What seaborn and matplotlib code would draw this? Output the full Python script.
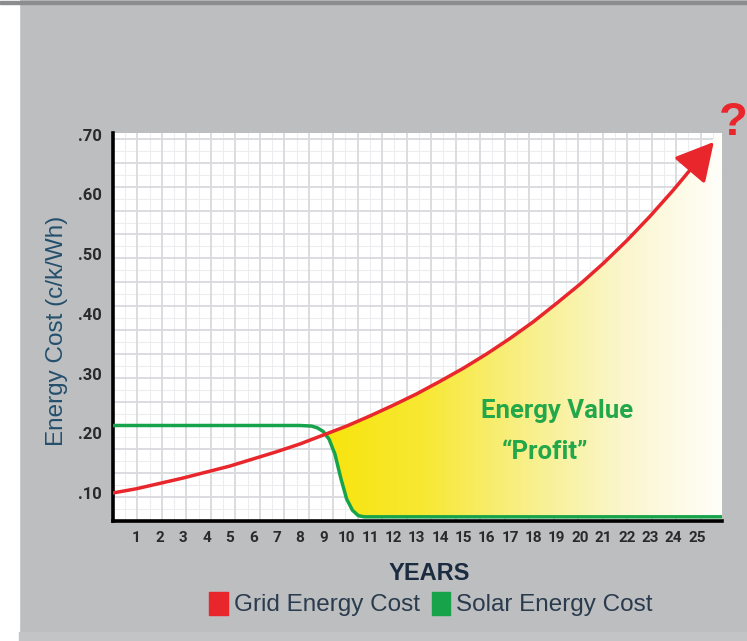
import numpy as np
import pandas as pd
import matplotlib
matplotlib.use('Agg')
import matplotlib.pyplot as plt
from matplotlib.colors import LinearSegmentedColormap
from matplotlib.patches import Patch, Rectangle
import seaborn as sns

# values
grid_years = [0, 1, 2, 3, 4, 5, 6, 7, 8, 9, 10, 11, 12, 13, 14, 15, 16, 17, 18,
              19, 20, 21, 22, 23, 24, 25, 26.1]
grid_cost = [0.100, 0.107, 0.116, 0.125, 0.135, 0.145, 0.157, 0.169, 0.182,
             0.197, 0.212, 0.229, 0.247, 0.266, 0.287, 0.309, 0.333, 0.359,
             0.387, 0.418, 0.450, 0.485, 0.523, 0.564, 0.608, 0.655, 0.715]
solar_years = [0, 2, 4, 6, 8, 8.5, 8.75, 9, 9.25, 9.5, 9.75, 10, 10.25, 10.5,
               10.75, 11, 14, 18, 22, 26.1]
solar_cost = [0.213, 0.213, 0.213, 0.213, 0.213, 0.212, 0.209, 0.203, 0.190,
              0.165, 0.125, 0.090, 0.071, 0.062, 0.060, 0.060, 0.060, 0.060,
              0.060, 0.060]
year_ticks = list(range(1, 26))
cost_ticks = [0.10, 0.20, 0.30, 0.40, 0.50, 0.60, 0.70]
cost_labels = ['.10', '.20', '.30', '.40', '.50', '.60', '.70']

RED = '#e8262b'
GREEN = '#17a34a'
BG = '#bdbec0'
narrow = ['Roboto', 'DejaVu Sans']
sans = ['Liberation Sans', 'DejaVu Sans']

sns.set_style('white')

grid_df = pd.DataFrame({'year': grid_years, 'cost': grid_cost})
solar_df = pd.DataFrame({'year': solar_years, 'cost': solar_cost})

fig = plt.figure(figsize=(7.47, 6.41), dpi=100, facecolor=BG)
fig.add_artist(Rectangle((0, 0), 19 / 747, 1, transform=fig.transFigure,
                         color='white', zorder=0))
fig.add_artist(Rectangle((0, 0.994), 1, 0.004, transform=fig.transFigure,
                         color='#8c8d8f', zorder=0))
fig.add_artist(Rectangle((19 / 747, 0), 1, 9 / 641, transform=fig.transFigure,
                         color='#c3c4c6', zorder=0))
ax = fig.add_axes([113 / 747, 120 / 641, 609 / 747, 388 / 641])
ax.set_facecolor('white')

xmin, xmax = 0, 26.07
ymin, ymax = 0.053, 0.7

# graph-paper background
for gx in np.arange(0.52, xmax, 1.048):
    ax.axvline(gx, color='#ededef', lw=0.8, zorder=0)
for gy in np.arange(ymin + 0.02, ymax, 0.04):
    ax.axhline(gy, color='#ededef', lw=0.8, zorder=0)
for gx in np.arange(1.048, xmax, 1.048):
    ax.axvline(gx, color='#d9dadd', lw=1.3, zorder=0)
for gy in np.arange(ymin + 0.04, ymax, 0.04):
    ax.axhline(gy, color='#d9dadd', lw=1.3, zorder=0)

# gradient "profit" area between the two curves
xs = np.linspace(8.9, xmax, 600)
top = np.interp(xs, grid_years, grid_cost)
bot = np.interp(xs, solar_years, solar_cost)
poly = ax.fill_between(xs, bot, top, where=top > bot, color='none', lw=0)
cmap = LinearSegmentedColormap.from_list(
    'profit', ['#f8e40c', '#f7e833', '#f8ef86', '#fbf6cc', '#fffefa'])
grad = np.linspace(0, 1, 256).reshape(1, -1)
im = ax.imshow(grad, cmap=cmap, aspect='auto', extent=[9.0, xmax, ymin, ymax],
               zorder=1)
path = poly.get_paths()[0]
im.set_clip_path(path, transform=ax.transData)

sns.lineplot(data=solar_df, x='year', y='cost', ax=ax, color=GREEN, lw=2.5,
             zorder=3, sort=False)
sns.lineplot(data=grid_df[grid_df.year <= 25], x='year', y='cost', ax=ax,
             color=RED, lw=2.5, zorder=4, sort=False)
ax.annotate('', xy=(25.72, 0.688), xytext=(25, 0.655),
            arrowprops=dict(arrowstyle='-|>,head_length=1.3,head_width=0.7',
                            mutation_scale=18, color=RED, lw=2.5,
                            shrinkA=0, shrinkB=0),
            annotation_clip=False, zorder=5)

ax.set_xlim(xmin, xmax)
ax.set_ylim(ymin, ymax + 0.003)
ax.set_xticks(year_ticks)
ax.set_xticklabels([str(t) for t in year_ticks], family=narrow,
                   fontweight='bold', fontsize=11, color='#2a2a2a')
ax.set_yticks(cost_ticks)
ax.set_yticklabels(cost_labels, family=narrow, fontweight='bold',
                   fontsize=12, color='#2a2a2a')
ax.tick_params(axis='x', length=0, pad=7)
ax.tick_params(axis='y', length=0, pad=8)

for side in ['top', 'right']:
    ax.spines[side].set_visible(False)
for side in ['left', 'bottom']:
    ax.spines[side].set_color('black')
    ax.spines[side].set_linewidth(2.6)
    ax.spines[side].set_zorder(2)

ax.set_xlabel('YEARS', fontsize=17, fontweight='bold', color='#1b2b40',
              family=sans)
ax.xaxis.set_label_coords(0.52, -0.105)
ax.set_ylabel('Energy Cost (c/k/Wh)', fontsize=17.5, color='#24506d',
              family=sans)
ax.yaxis.set_label_coords(-0.074, 0.49)

ax.text(19.0, 0.238, 'Energy Value', ha='center', va='center', fontsize=18.5,
        fontweight='bold', color='#22a84a', family=narrow, zorder=6)
ax.text(18.5, 0.168, '\u201cProfit\u201d', ha='center', va='center',
        fontsize=18.5, fontweight='bold', color='#22a84a', family=narrow,
        zorder=6)

fig.text(733 / 747, 1 - 123 / 641, '?', ha='center', va='center',
         fontsize=34, fontweight='bold', color=RED, family=sans)

handles = [Patch(color=RED, label='Grid Energy Cost'),
           Patch(color=GREEN, label='Solar Energy Cost')]
fig.legend(handles=handles, loc='center', bbox_to_anchor=(431 / 747, 37 / 641),
           ncol=2, frameon=False, handlelength=0.75, handleheight=1.1,
           handletextpad=0.25, columnspacing=0.5,
           prop={'family': sans, 'size': 17.5}, labelcolor='#2a3b4e')

fig.savefig('out.png', dpi=100, facecolor=BG)
